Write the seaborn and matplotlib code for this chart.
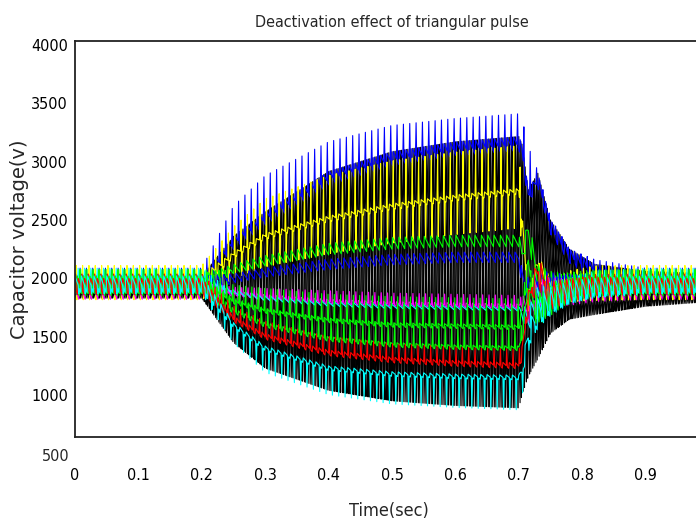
import numpy as np
import pandas as pd
import matplotlib
matplotlib.use("Agg")
import matplotlib.pyplot as plt
import matplotlib.transforms as mtransforms
import seaborn as sns

# ---------------------------------------------------------------------------
# Data
# ---------------------------------------------------------------------------
TITLE = "Deactivation effect of triangular pulse"
XLABEL = "Time(sec)"
YLABEL = "Capacitor voltage(v)"

XTICKS = [0, 0.1, 0.2, 0.3, 0.4, 0.5, 0.6, 0.7, 0.8, 0.9]
XTICK_LABELS = ["0", "0.1", "0.2", "0.3", "0.4", "0.5", "0.6", "0.7", "0.8", "0.9"]
YTICKS = [1000, 1500, 2000, 2500, 3000, 3500, 4000]
YTICK_LABELS = ["1000", "1500", "2000", "2500", "3000", "3500", "4000"]

# sampling of the simulated capacitor voltages (s) and switching period (samples)
STEP = 0.001
PERIOD = 10

# one switching period of the ripple shapes
SAW = [1.0, 0.78, 0.56, 0.33, 0.11, -0.11, -0.33, -0.56, -0.78, -1.0]
PULSE = [0.0, 1.0, 0.0, 0.0, 0.0, 0.0, 0.0, 0.0, 0.0, 0.0]
PULSE_BI = [0.0, 1.0, -0.75, 0.0, 0.0, 0.0, 0.0, 0.0, 0.0, 0.0]

# breakpoints (s) at which the levels and ripple amplitudes are read
KNOTS = [0, 0.2, 0.25, 0.3, 0.4, 0.5, 0.6, 0.7, 0.705, 0.715, 0.73, 0.75, 0.78, 0.82, 0.9, 1.0]

# black capacitor group: upper and lower envelope (V)
BLACK_TOP = [2020, 2020, 2360, 2570, 2915, 3085, 3170, 3215, 3150, 2760, 2900, 2500, 2250, 2120, 2060, 2040]
BLACK_BOTTOM = [1830, 1830, 1450, 1230, 1040, 950, 910, 890, 1000, 1160, 1310, 1530, 1650, 1690, 1760, 1800]
BLACK_PHASES = [0, 3, 5, 8]

# coloured capacitors: mean level, sawtooth amplitude, pulse amplitude (V)
BLUE_HI_LEVEL = [1960, 1960, 2300, 2510, 2855, 3025, 3110, 3155, 3090, 2700, 2840, 2440, 2190, 2060, 1960, 1960]
BLUE_HI_SAW = [70, 70, 60, 60, 60, 60, 60, 60, 60, 60, 60, 60, 60, 60, 70, 70]
BLUE_HI_PULSE = [150, 150, 340, 390, 335, 305, 280, 275, 300, 450, 100, 100, 80, 120, 150, 150]

YELLOW_LEVEL = [1970, 1970, 2200, 2360, 2510, 2615, 2690, 2745, 2500, 1800, 2100, 1900, 1950, 1970, 1970, 1970]
YELLOW_SAW = [60, 60, 25, 25, 25, 25, 25, 25, 60, 80, 100, 100, 80, 70, 60, 60]
YELLOW_PULSE = [160, 160, 250, 330, 380, 400, 400, 400, 200, 100, 80, 100, 140, 160, 160, 160]

GREEN_HI_LEVEL = [1950, 1950, 2080, 2150, 2250, 2300, 2320, 2320, 2200, 2400, 2000, 1950, 1950, 1950, 1950, 1950]
GREEN_HI_SAW = [80, 80, 40, 45, 50, 50, 50, 50, 80, 100, 120, 110, 90, 80, 80, 80]
GREEN_HI_PULSE = [150, 150, 0, 0, 0, 0, 0, 0, 0, 0, 60, 100, 130, 150, 150, 150]

BLUE_MID_LEVEL = [1940, 1940, 2000, 2050, 2120, 2160, 2180, 2180, 2000, 1900, 1950, 1940, 1940, 1940, 1940, 1940]
BLUE_MID_SAW = [80, 80, 40, 40, 45, 45, 45, 45, 80, 100, 120, 110, 90, 80, 80, 80]
BLUE_MID_PULSE = [120, 120, 0, 0, 0, 0, 0, 0, 0, 0, 60, 100, 120, 120, 120, 120]

MAGENTA_LEVEL = [1900, 1900, 1870, 1840, 1800, 1780, 1770, 1760, 1800, 1700, 1850, 1880, 1880, 1890, 1900, 1900]
MAGENTA_SAW = [80, 80, 20, 20, 20, 20, 20, 20, 60, 100, 130, 130, 110, 90, 80, 80]
MAGENTA_PULSE = [100, 100, 60, 80, 100, 100, 100, 100, 50, 30, 60, 80, 100, 100, 100, 100]

CYAN_MID_LEVEL = [1960, 1960, 1880, 1830, 1780, 1760, 1750, 1740, 1700, 1650, 1800, 1850, 1900, 1940, 1960, 1960]
CYAN_MID_SAW = [70, 70, 20, 20, 20, 20, 20, 20, 60, 100, 130, 120, 100, 80, 70, 70]
CYAN_MID_PULSE = [150, 150, 0, 0, 0, 0, 0, 0, 0, 0, 60, 100, 130, 150, 150, 150]

GREEN_LO_LEVEL = [1940, 1940, 1800, 1720, 1640, 1600, 1590, 1580, 1700, 2100, 1750, 1800, 1900, 1930, 1940, 1940]
GREEN_LO_SAW = [70, 70, 20, 20, 20, 20, 20, 20, 60, 100, 130, 120, 100, 80, 70, 70]
GREEN_LO_PULSE = [160, 160, 150, 200, 230, 250, 250, 250, 150, 100, 80, 120, 150, 160, 160, 160]

GREEN_LO2_LEVEL = [1920, 1920, 1720, 1600, 1480, 1430, 1410, 1400, 1500, 1900, 1700, 1850, 1900, 1920, 1920, 1920]
GREEN_LO2_SAW = [70, 70, 20, 20, 20, 20, 20, 20, 60, 100, 130, 120, 100, 80, 70, 70]
GREEN_LO2_PULSE = [120, 120, 120, 150, 170, 180, 180, 180, 120, 80, 60, 80, 100, 120, 120, 120]

RED_LEVEL = [1930, 1930, 1650, 1500, 1360, 1300, 1270, 1250, 1350, 1800, 2050, 1850, 1900, 1930, 1930, 1930]
RED_SAW = [70, 70, 25, 25, 25, 25, 25, 25, 60, 100, 130, 120, 100, 80, 70, 70]
RED_PULSE = [130, 130, 120, 140, 150, 150, 150, 150, 100, 60, 60, 90, 120, 130, 130, 130]

CYAN_LO_LEVEL = [1950, 1950, 1600, 1400, 1230, 1180, 1160, 1150, 1200, 1500, 1700, 1800, 1880, 1920, 1950, 1950]
CYAN_LO_SAW = [70, 70, 20, 20, 20, 20, 20, 20, 60, 100, 130, 120, 100, 80, 70, 70]
CYAN_LO_PULSE = [-60, -60, -150, -200, -220, -250, -260, -270, -200, -100, -60, -60, -60, -60, -60, -60]

# (name, colour, level, saw amplitude, pulse amplitude, pulse shape, phase)
TRACES = [
    ("blue_hi", "#0000ff", BLUE_HI_LEVEL, BLUE_HI_SAW, BLUE_HI_PULSE, PULSE, 2),
    ("yellow", "#ffff00", YELLOW_LEVEL, YELLOW_SAW, YELLOW_PULSE, PULSE_BI, 6),
    ("green_hi", "#00ff00", GREEN_HI_LEVEL, GREEN_HI_SAW, GREEN_HI_PULSE, PULSE, 1),
    ("blue_mid", "#0000ff", BLUE_MID_LEVEL, BLUE_MID_SAW, BLUE_MID_PULSE, PULSE, 4),
    ("magenta", "#ff00ff", MAGENTA_LEVEL, MAGENTA_SAW, MAGENTA_PULSE, PULSE, 7),
    ("cyan_mid", "#00ffff", CYAN_MID_LEVEL, CYAN_MID_SAW, CYAN_MID_PULSE, PULSE, 9),
    ("green_lo", "#00ff00", GREEN_LO_LEVEL, GREEN_LO_SAW, GREEN_LO_PULSE, PULSE, 3),
    ("green_lo2", "#00ff00", GREEN_LO2_LEVEL, GREEN_LO2_SAW, GREEN_LO2_PULSE, PULSE, 8),
    ("red", "#ff0000", RED_LEVEL, RED_SAW, RED_PULSE, PULSE, 5),
    ("cyan_lo", "#00ffff", CYAN_LO_LEVEL, CYAN_LO_SAW, CYAN_LO_PULSE, PULSE, 0),
]

# ---------------------------------------------------------------------------
# Build the waveforms
# ---------------------------------------------------------------------------
t = np.arange(0, 1.0 + STEP / 2, STEP)
n = t.size


def periodic(shape, phase):
    return np.tile(np.roll(np.asarray(shape, float), phase), n // PERIOD + 1)[:n]


def curve(values):
    return np.interp(t, KNOTS, values)


frames = []
palette = {}
top = curve(BLACK_TOP)
bot = curve(BLACK_BOTTOM)
for k, ph in enumerate(BLACK_PHASES):
    v = (top + bot) / 2 + (top - bot) / 2 * periodic(SAW, ph)
    name = f"black_{k}"
    palette[name] = "#000000"
    frames.append(pd.DataFrame({"time": t, "voltage": v, "cap": name}))

for name, color, level, saw, pulse, shape, ph in TRACES:
    v = curve(level) + curve(saw) * periodic(SAW, ph) + curve(pulse) * periodic(shape, (ph + 5) % PERIOD)
    palette[name] = color
    frames.append(pd.DataFrame({"time": t, "voltage": v, "cap": name}))

df = pd.concat(frames, ignore_index=True)

# ---------------------------------------------------------------------------
# Plot
# ---------------------------------------------------------------------------
sns.set_style("white")
plt.rcParams["font.family"] = ["DejaVu Sans"]
plt.rcParams["font.stretch"] = "condensed"

fig = plt.figure(figsize=(6.96, 5.26), dpi=100)
ax = fig.add_axes([75 / 696, 89 / 526, 634 / 696, 396 / 526])

sns.lineplot(data=df, x="time", y="voltage", hue="cap", palette=palette,
             hue_order=list(palette.keys()), estimator=None, sort=False,
             legend=False, linewidth=0.8, ax=ax)

ax.set_xlim(0, 1)
ax.set_ylim(640, 4034)
ax.set_xticks(XTICKS)
ax.set_xticklabels(XTICK_LABELS)
ax.set_yticks(YTICKS)
ax.set_yticklabels(YTICK_LABELS)
ax.tick_params(axis="both", length=0, labelsize=11.5, colors="#000000")
ax.tick_params(axis="x", pad=22)
ax.tick_params(axis="y", pad=5)

# the 500 V label sits below the plotting box
trans = mtransforms.blended_transform_factory(ax.transAxes, ax.transData)
ax.text(-5 / 634, 470, "500", transform=trans, ha="right", va="center",
        fontsize=11.5, clip_on=False)

for side in ["top", "bottom", "left", "right"]:
    ax.spines[side].set_visible(True)
    ax.spines[side].set_color("#222222")
    ax.spines[side].set_linewidth(1.3)

ax.set_title(TITLE, fontsize=11.5, pad=10)
ax.set_xlabel(XLABEL, fontsize=13)
ax.xaxis.set_label_coords(0.495, -0.165)
ax.set_ylabel(YLABEL, fontsize=14, family=["DejaVu Sans"], fontstretch="normal")
ax.yaxis.set_label_coords(-0.072, 0.5)

fig.savefig("out.png", dpi=100)
